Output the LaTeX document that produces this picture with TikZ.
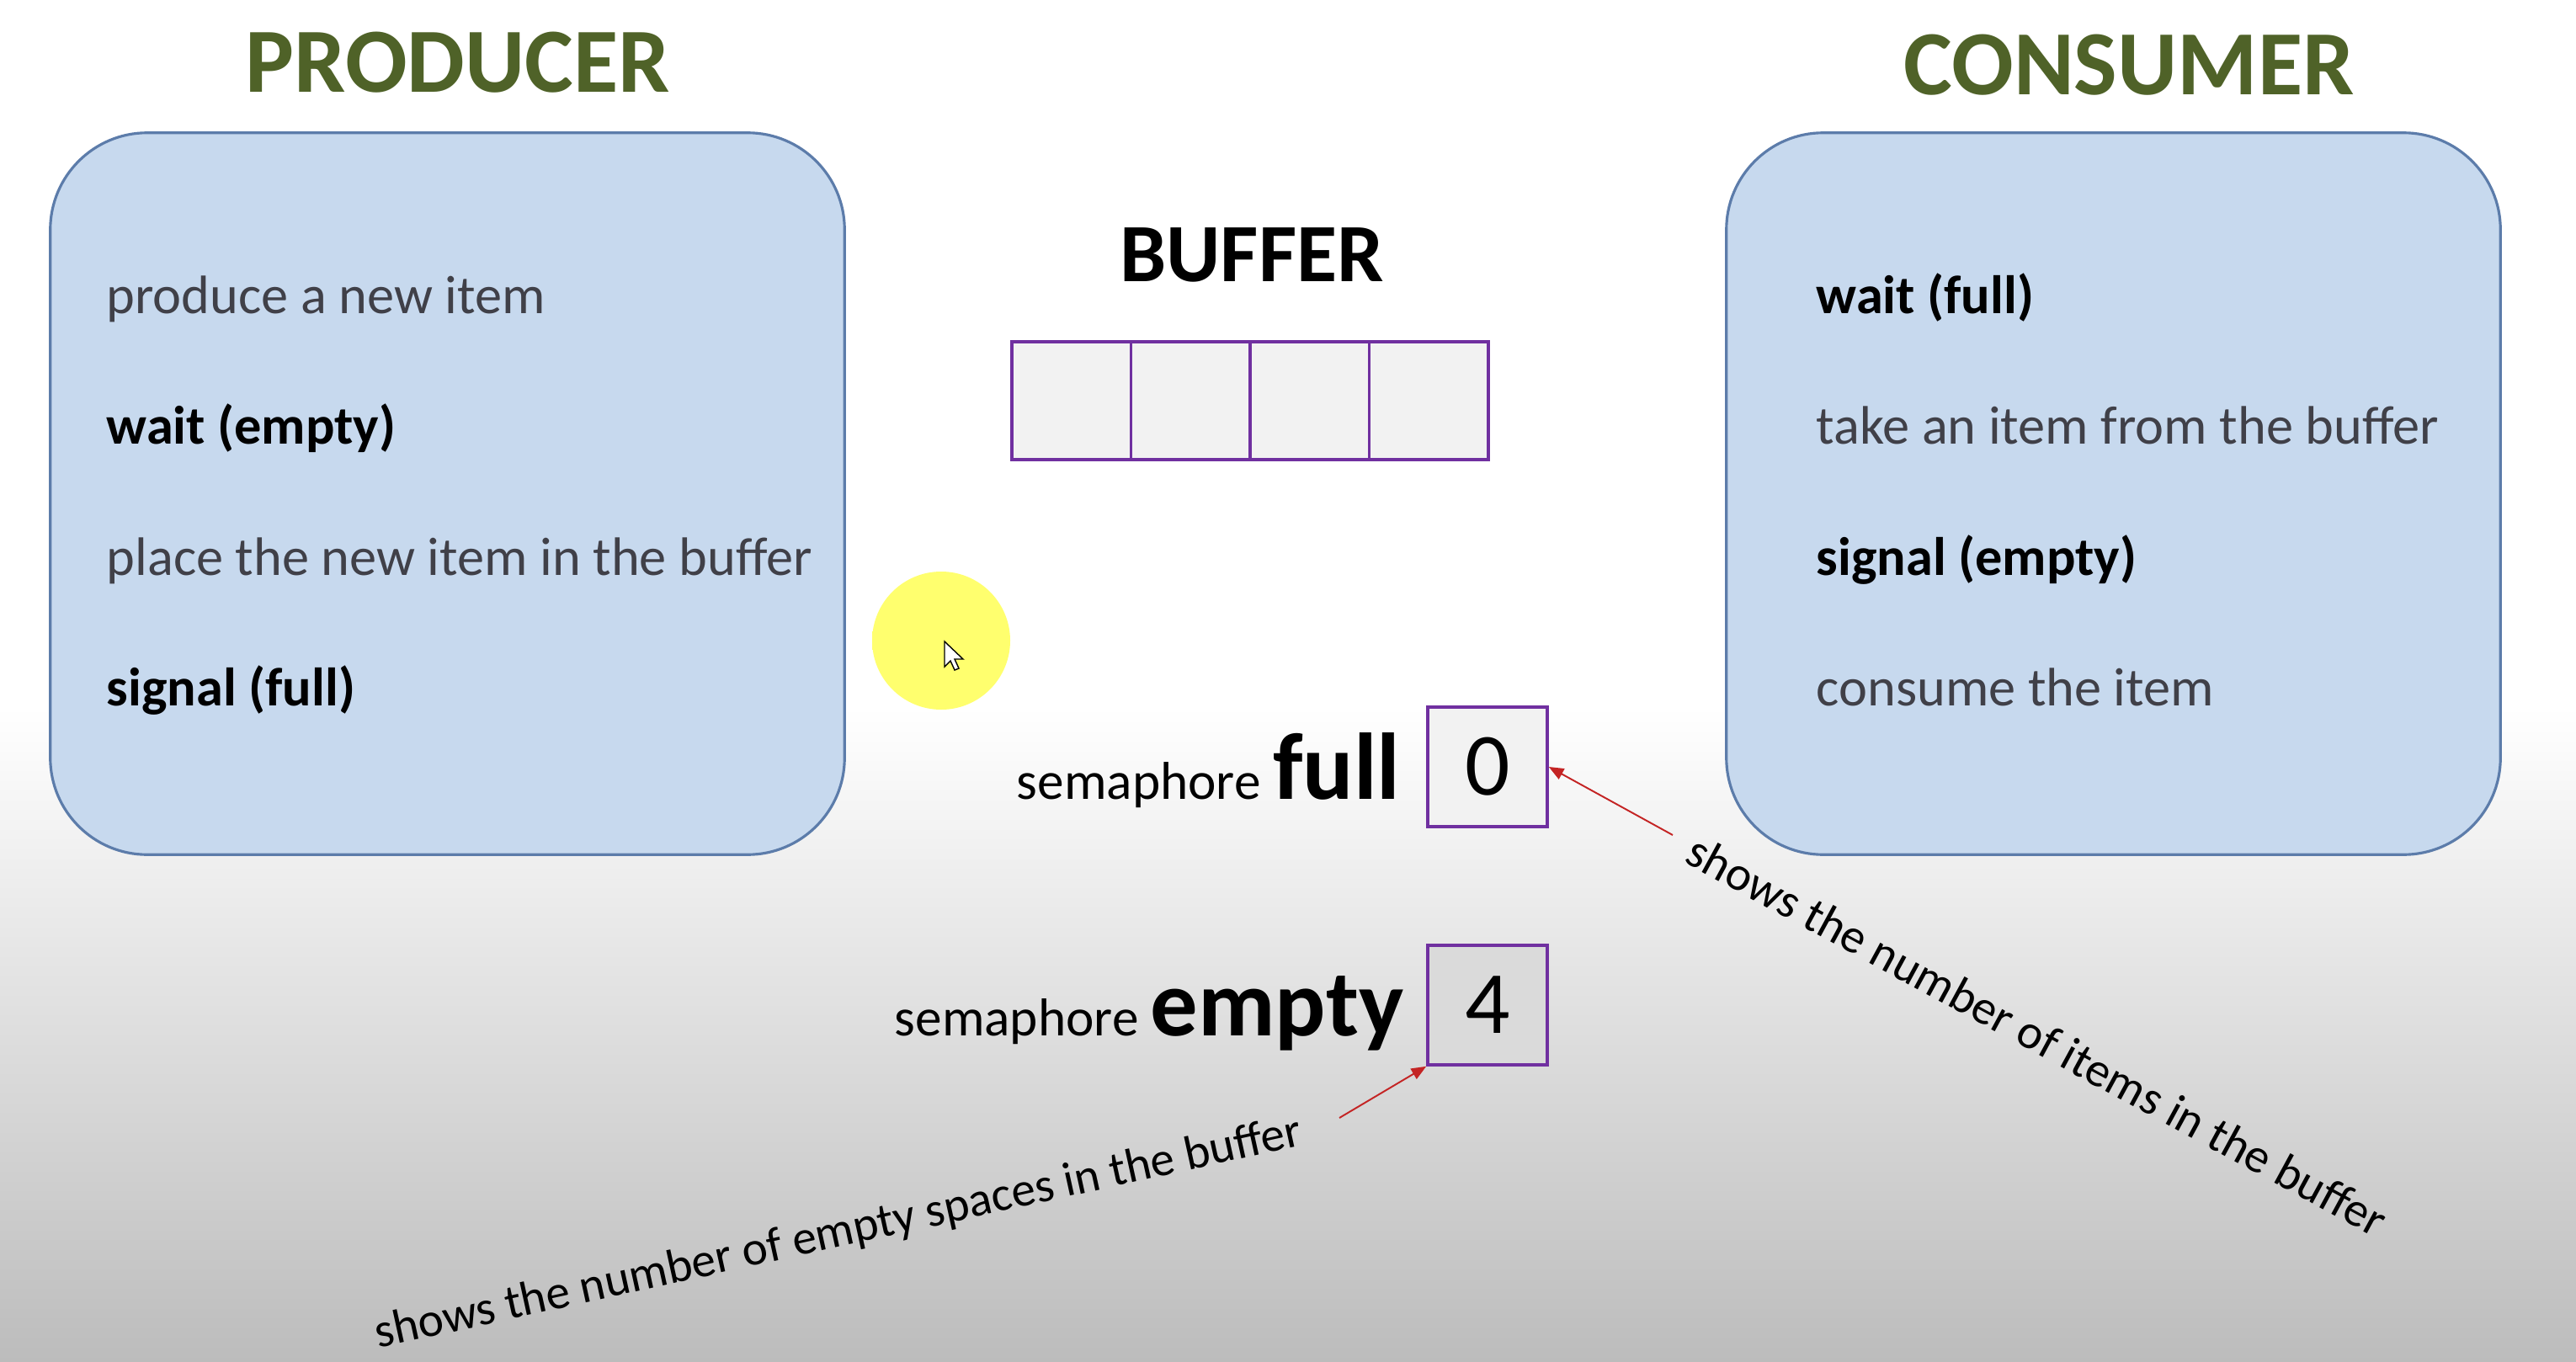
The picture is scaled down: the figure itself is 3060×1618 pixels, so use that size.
\documentclass[tikz,border=0pt]{standalone}
\usepackage{fontspec}
\setmainfont{Carlito}
\usetikzlibrary{positioning,arrows.meta}
\definecolor{titleGreen}{RGB}{79,98,40}
\definecolor{boxFill}{RGB}{199,217,238}
\definecolor{boxEdge}{RGB}{92,124,170}
\definecolor{stepGrey}{RGB}{64,64,72}
\definecolor{cellEdge}{RGB}{112,48,160}
\definecolor{cellFill}{RGB}{242,242,242}
\definecolor{emptyFill}{RGB}{218,218,218}
\definecolor{noteRed}{RGB}{196,36,36}
\definecolor{bgGrey}{RGB}{188,188,188}
\definecolor{glowYellow}{RGB}{255,255,110}
\pgfdeclareradialshading{cursorGlow}{\pgfpoint{0bp}{0bp}}{color(0bp)=(glowYellow); color(30bp)=(glowYellow); color(50bp)=(white)}
\newcommand\cmdtext[1]{\textcolor{black}{\bfseries #1}}
\newcommand\semname[1]{{\fontsize{32}{36}\selectfont\bfseries #1}}

\begin{document}
\begin{tikzpicture}[x=0.01cm,y=-0.01cm,
  sidebox/.style={draw=boxEdge, line width=0.9pt, fill=boxFill, rounded corners=1.15cm, minimum height=8.57cm},
  headline/.style={font=\fontsize{31}{36}\selectfont\bfseries, text=titleGreen, anchor=base, inner sep=0pt},
  stepline/.style={font=\fontsize{18.3}{22}\selectfont, text=stepGrey, anchor=base west, inner sep=0pt},
  bufcell/.style={draw=cellEdge, line width=1pt, fill=cellFill, minimum width=1.415cm, minimum height=1.4cm},
  semval/.style={draw=cellEdge, line width=1pt, minimum size=1.42cm, font=\fontsize{30}{34}\selectfont},
  semlabel/.style={font=\fontsize{18}{22}\selectfont, anchor=base east, inner sep=0pt},
  note/.style={font=\fontsize{16.3}{20}\selectfont, inner sep=0pt},
  notearrow/.style={draw=noteRed, line width=0.55pt, -{Triangle[length=5pt,width=4pt]}}
]
\fill[white] (0,0) rectangle (3060,840);
\shade[top color=white, bottom color=bgGrey] (0,840) rectangle (3060,1618);
\useasboundingbox (0,0) rectangle (3060,1618);

\node[headline] (prodTitle) at (544,110) {PRODUCER};
\node[headline] (consTitle) at (2529,112) {CONSUMER};
\node[sidebox, minimum width=9.43cm] (prod) at (531.5,586.5) {};
\node[sidebox, minimum width=9.19cm] (cons) at (2510.5,586.5) {};

\foreach \n/\txt in {1/produce a new item, 2/\cmdtext{wait (empty)}, 3/place the new item in the buffer, 4/\cmdtext{signal (full)}}
  \node[stepline] (prod\n) at (126,{372+155.5*(\n-1)}) {\txt};
\foreach \n/\txt in {1/\cmdtext{wait (full)}, 2/take an item from the buffer, 3/\cmdtext{signal (empty)}, 4/consume the item}
  \node[stepline] (cons\n) at (2157,{372+155.5*(\n-1)}) {\txt};

% buffer with four slots
\node[font=\fontsize{28}{32}\selectfont\bfseries, anchor=base, inner sep=0pt] (bufTitle) at (1487,334) {BUFFER};
\foreach \i in {1,...,4}
  \node[bufcell] (cell\i) at ({1202+141.5*(\i-0.5)},476) {};

% semaphores
\node[semval, fill=cellFill] (fullVal) at (1767,911) {0};
\node[semval, fill=emptyFill] (emptyVal) at (1767,1194) {4};
\node[semlabel] (fullLbl) at (1664,949) {semaphore \semname{full}};
\node[semlabel] (emptyLbl) at (1668,1230) {semaphore \semname{empty}};

\coordinate (fullTail) at (1987,992);
\coordinate (emptyTail) at (1591,1328);
\draw[notearrow] (fullTail) -- (fullVal.east);
\draw[notearrow] (emptyTail) -- (emptyVal.south west);
\node[note, rotate=-28.5] (fullNote) at (2420,1230) {shows the number of items in the buffer};
\node[note, rotate=12.4] (emptyNote) at (996,1466) {shows the number of empty spaces in the buffer};

% pointer
\shade[shading=cursorGlow] (1118,761) circle (82);
\filldraw[fill=white, draw=black, line width=0.4pt] (1122,762) -- ++(0,30) -- ++(7,-7) -- ++(5,11) -- ++(5,-2) -- ++(-5,-11) -- ++(10,0) -- cycle;
\end{tikzpicture}
\end{document}
